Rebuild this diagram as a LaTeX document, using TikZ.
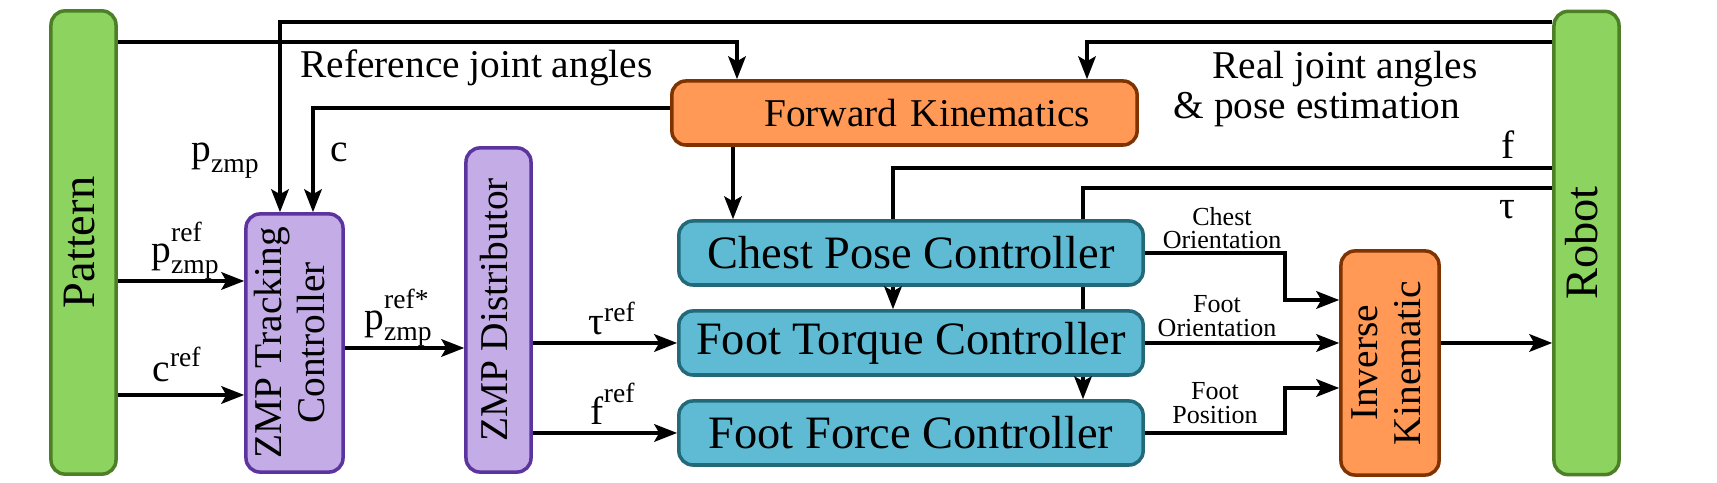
\documentclass[tikz,border=0pt]{standalone}
\usepackage{fontspec}
\setmainfont{Liberation Serif}
\usepackage{amsmath}
\usepackage{graphicx}
\usetikzlibrary{arrows.meta,positioning}

\definecolor{patgreen}{HTML}{8DD35F}
\definecolor{patgreenline}{HTML}{4D7F27}
\definecolor{zmppurple}{HTML}{C4ADE6}
\definecolor{zmppurpleline}{HTML}{5B34A0}
\definecolor{kinorange}{HTML}{FF9955}
\definecolor{kinorangeline}{HTML}{7F3300}
\definecolor{ctrlblue}{HTML}{5EBBD3}
\definecolor{ctrlblueline}{HTML}{22697A}

\newcommand{\blkfont}{\fontsize{13.2}{15}\selectfont}
\newcommand{\midfont}{\fontsize{11.2}{12.2}\selectfont}
\newcommand{\smlfont}{\fontsize{7.4}{6.7}\selectfont}
\newcommand{\vtext}[1]{\rotatebox{90}{\begin{tabular}{@{}c@{}}#1\end{tabular}}}
\newcommand{\hisup}[2]{^{\raisebox{#1}{$\scriptstyle\text{#2}$}}}

\tikzset{
  blk/.style={draw, rounded corners=4pt, line width=1pt, inner sep=0pt},
  patblk/.style={blk, fill=patgreen, draw=patgreenline, font=\blkfont, minimum width=0.65cm, minimum height=4.63cm},
  zmpblk/.style={blk, fill=zmppurple, draw=zmppurpleline, font=\midfont},
  kinblk/.style={blk, fill=kinorange, draw=kinorangeline, font=\midfont},
  ctrlblk/.style={blk, fill=ctrlblue, draw=ctrlblueline, font=\blkfont, minimum width=4.64cm, minimum height=0.64cm},
  arr/.style={-{Stealth[length=6.5pt,width=5pt,inset=1.4pt]}, line width=1pt},
  wire/.style={line width=1pt},
  lbl/.style={font=\midfont, inner sep=0pt},
  tag/.style={font=\smlfont, inner sep=0pt, align=center}
}

\begin{document}
\begin{tikzpicture}[x=0.01cm,y=-0.01cm]
\useasboundingbox (0,0) rectangle (1717,483);

\node[patblk] (pattern) at (83.5,242.5) {\vtext{Pattern}};
\node[patblk] (robot) at (1586.5,243) {\vtext{Robot}};
\node[zmpblk, minimum width=0.97cm, minimum height=2.58cm] (zmptc) at (294.5,343) {\vtext{ZMP Tracking\\Controller}};
\node[zmpblk, minimum width=0.65cm, minimum height=3.24cm] (zmpd) at (498.5,310) {\vtext{ZMP Distributor}};
\node[kinblk, text width=3.71cm, align=right, inner xsep=0.47cm, minimum height=0.64cm] (fk) at (904.5,113) {Forward Kinematics};
\node[ctrlblk] (cpc) at (911,253) {Chest Pose Controller};
\node[ctrlblk] (ftc) at (911,343) {Foot Torque Controller};
\node[ctrlblk] (ffc) at (911,433) {Foot Force Controller};
\node[kinblk, minimum width=0.98cm, minimum height=2.24cm] (ik) at (1390,363) {\vtext{Inverse\\Kinematic}};

\coordinate (zp) at (280,22);
\coordinate (jr) at (737,42);
\coordinate (jp) at (1087,42);
\coordinate (zc) at (313,108);
\coordinate (fo) at (733,180);
\coordinate (fb) at (893,168);
\coordinate (tb) at (1083,188);
\coordinate (ikup) at (1285,300);
\coordinate (ikdn) at (1285,388);

\draw[arr] (robot.west |- zp) -- (zp) -- (zmptc.north -| zp);
\draw[arr] (pattern.east |- jr) -- (jr) -- (fk.north -| jr);
\draw[arr] (robot.west |- jp) -- (jp) -- (fk.north -| jp);
\draw[arr] (fk.west |- zc) -- (zc) -- (zmptc.north -| zc);
\draw[arr] (fk.south -| fo) -- (cpc.north -| fo);
\draw[wire] (robot.west |- fb) -- (fb) -- (cpc.north -| fb);
\draw[arr] (cpc.south -| fb) -- (ftc.north -| fb);
\draw[wire] (robot.west |- tb) -- (tb) -- (cpc.north -| tb);
\draw[wire] (cpc.south -| tb) -- (ftc.north -| tb);
\draw[arr] (ftc.south -| tb) -- (ffc.north -| tb);

\draw[arr] (pattern.east |- 0,281) -- (zmptc.west |- 0,281);
\draw[arr] (pattern.east |- 0,395) -- (zmptc.west |- 0,395);
\draw[arr] (zmptc.east |- 0,348) -- (zmpd.west |- 0,348);
\draw[arr] (zmpd.east |- ftc) -- (ftc.west);
\draw[arr] (zmpd.east |- ffc) -- (ffc.west);
\draw[arr] (cpc.east) -| (ikup) -- (ik.west |- ikup);
\draw[arr] (ftc.east) -- (ik.west |- ftc);
\draw[arr] (ffc.east) -| (ikdn) -- (ik.west |- ikdn);
\draw[arr] (ik.east |- ftc) -- (robot.west |- ftc);

\node[lbl, anchor=base] (lrefja) at (476.5,78) {Reference joint angles};
\node[lbl, align=center, font=\fontsize{11.2}{11.4}\selectfont] (lrealja) at (1317,89) {\hspace*{0.56cm}Real joint angles\\\& pose estimation};
\node[lbl, anchor=base] (lpz) at (226,162) {$\text{p}_{\text{zmp}}$};
\node[lbl, anchor=base] (lc) at (339.5,162) {c};
\node[lbl, anchor=base] (lpzr) at (186,263) {$\text{p}\hisup{2.2pt}{ref}_{\text{zmp}}$};
\node[lbl, anchor=base] (lcr) at (177.5,382) {$\text{c}\hisup{0.3pt}{ref}$};
\node[lbl, anchor=base] (lpzs) at (399,330) {$\text{p}\hisup{2.2pt}{ref*}_{\text{zmp}}$};
\node[lbl, anchor=base] (ltr) at (612.5,335) {$\text{τ}^{\text{ref}}$};
\node[lbl, anchor=base] (lfr) at (613.5,425) {$\text{f}\hisup{1.6pt}{ref}$};
\node[lbl, anchor=base] (lf) at (1508,159) {f};
\node[lbl, anchor=base] (lt) at (1507,219) {τ};
\node[tag] (lco) at (1222,228) {Chest\\Orientation};
\node[tag] (lfo) at (1217,316) {Foot\\Orientation};
\node[tag] (lfp) at (1215,403) {Foot\\Position};
\end{tikzpicture}
\end{document}
